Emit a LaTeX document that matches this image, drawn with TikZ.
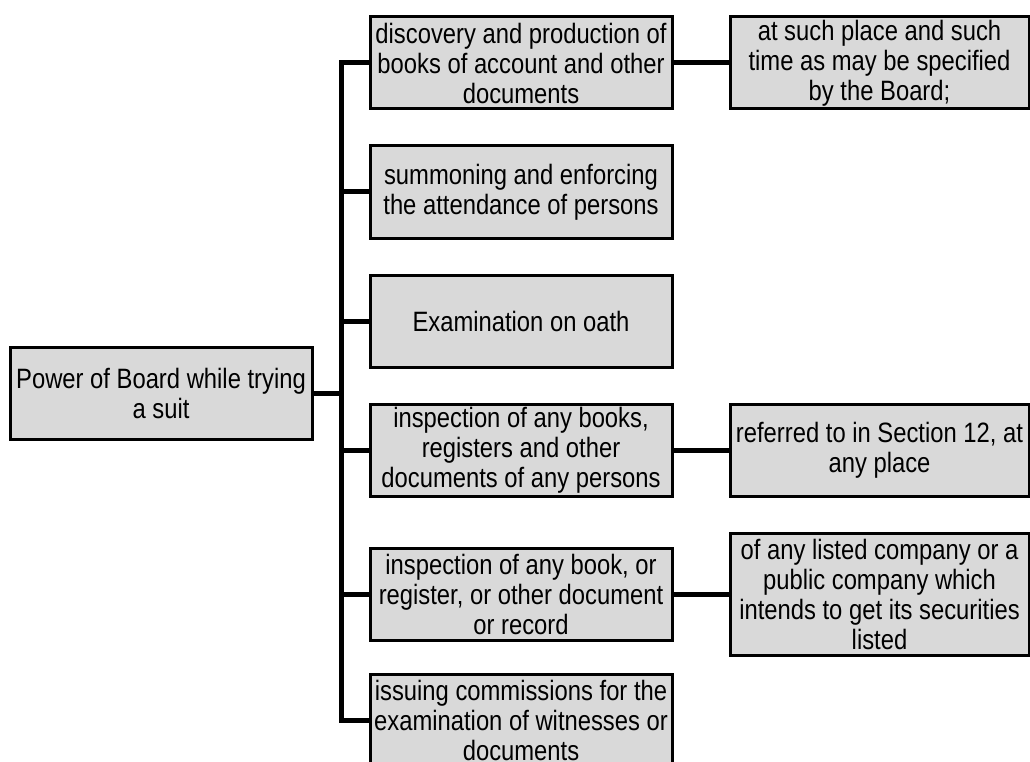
\documentclass[tikz,border=0pt]{standalone}
\usepackage{fontspec}
\setmainfont[FakeStretch=0.85]{Liberation Sans}
\definecolor{boxgray}{HTML}{D9D9D9}
\begin{document}
\begin{tikzpicture}[x=1pt,y=-1pt,
  box/.style={draw=black, fill=boxgray, line width=3pt, rectangle, inner sep=0pt,
    minimum width=#1, minimum height=92pt, align=center,
    font=\fontsize{28}{30}\selectfont},
  box/.default=302pt,
  link/.style={draw=black, line width=5pt}]
\clip (0,0) rectangle (1030,762);
\fill[white] (0,0) rectangle (1030,762);
% root
\node[box] (root) at (161,393) {Power of Board while trying\\a suit};
% children
\node[box] (b1) at (521,63) {discovery and production of\\books of account and other\\documents};
\node[box] (b2) at (521,192) {summoning and enforcing\\the attendance of persons};
\node[box] (b3) at (521,321) {Examination on oath};
\node[box] (b4) at (521,450) {inspection of any books,\\registers and other\\documents of any persons};
\node[box] (b5) at (521,594) {inspection of any book, or\\register, or other document\\or record};
\node[box] (b6) at (521,720) {issuing commissions for the\\examination of witnesses or\\documents};
% right column
\node[box=299pt] (r1) at (879.5,63) {at such place and such\\time as may be specified\\by the Board;};
\node[box=299pt] (r2) at (879.5,450) {referred to in Section 12, at\\any place};
\node[box=299pt, minimum height=122pt] (r3) at (879.5,594) {of any listed company or a\\public company which\\intends to get its securities\\listed};
% connectors
\coordinate (j) at (341,393);
\draw[link] (root.east) -- (j);
\foreach \b in {b1,b2,b3,b4,b5,b6}{
  \draw[link] (j) |- (\b.west);
}
\draw[link] (b1.east) -- (r1.west);
\draw[link] (b4.east) -- (r2.west);
\draw[link] (b5.east) -- (r3.west);
\end{tikzpicture}
\end{document}
